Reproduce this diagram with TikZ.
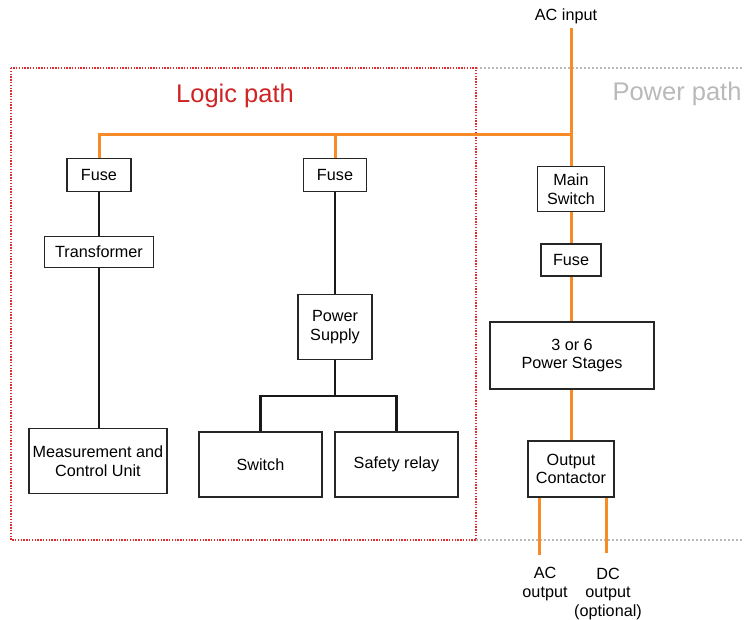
\documentclass[tikz,border=0pt]{standalone}
\usepackage{fontspec}
\setmainfont{Liberation Sans}
\begin{document}
\begin{tikzpicture}[x=1pt,y=-1pt,
  box/.style={draw=black!85,line width=1.5pt,fill=white,inner sep=0pt,align=center,font=\fontsize{16.2}{18.5}\selectfont},
  lbl/.style={align=center,font=\fontsize{16.2}{18.5}\selectfont,inner sep=0pt},
  pw/.style={draw=orgC,line width=3pt},
  lg/.style={draw=black!90,line width=2.4pt}]
\definecolor{orgC}{RGB}{248,138,40}
\definecolor{redC}{RGB}{225,45,45}
\definecolor{redT}{RGB}{206,36,36}
\definecolor{grayC}{RGB}{185,185,185}
\useasboundingbox (0,0) rectangle (744,620);
% regions
\draw[grayC,line width=1.3pt,dash pattern=on 2pt off 2pt] (476,68) -- (744,68);
\draw[grayC,line width=1.3pt,dash pattern=on 2pt off 2pt] (476,540) -- (744,540);
\draw[redC,line width=1.4pt,dash pattern=on 1.4pt off 1.4pt] (11,68) rectangle (476,540);
\node[font=\fontsize{25.5}{30}\selectfont,text=redT] (lp) at (235,96) {Logic path};
\node[font=\fontsize{25.5}{30}\selectfont,text=grayC] (pp) at (677,94) {Power path};
% nodes
\node[lbl] (acin) at (566,16) {AC input};
\coordinate (acs) at (571,28);
\coordinate (j0) at (571,135);
\coordinate (j1) at (99,135);
\coordinate (j2) at (335,135);
\node[box,minimum width=64pt,minimum height=33pt] (f1) at (99,175) {Fuse};
\node[box,minimum width=63pt,minimum height=33pt] (f2) at (335,175) {Fuse};
\node[box,minimum width=109pt,minimum height=31pt] (tr) at (99,252) {Transformer};
\node[box,minimum width=138pt,minimum height=65pt] (mcu) at (98,461) {Measurement and\\Control Unit};
\node[box,minimum width=74pt,minimum height=65pt] (ps) at (335,327) {Power\\Supply};
\node[box,minimum width=123pt,minimum height=65pt] (sw) at (260.5,464.5) {Switch};
\node[box,minimum width=123pt,minimum height=65pt] (sr) at (396.5,464.5) {Safety relay};
\node[box,minimum width=67pt,minimum height=45pt] (ms) at (571,189) {Main\\Switch};
\node[box,minimum width=60pt,minimum height=32pt] (f3) at (571,260) {Fuse};
\node[box,minimum width=164pt,minimum height=67pt] (pst) at (572,355.5) {3 or 6\\Power Stages};
\node[box,minimum width=86pt,minimum height=56pt] (oc) at (571,469) {Output\\Contactor};
\coordinate (aco) at (539,555);
\coordinate (dco) at (606,553);
\node[lbl] (acl) at (545,584) {AC\\output};
\node[lbl] (dcl) at (608,594) {DC\\output\\(optional)};
\coordinate (br) at (335,396);
% connectors
\draw[pw] (acs) -- (ms.north);
\draw[pw] (j0) -- (j1) -- (f1.north);
\draw[pw] (j2) -- (f2.north);
\draw[pw] (ms.south) -- (f3.north);
\draw[pw] (f3.south) -- (f3.south |- pst.north);
\draw[pw] (pst.south -| oc.north) -- (oc.north);
\draw[pw] (oc.south -| aco) -- (aco);
\draw[pw] (oc.south -| dco) -- (dco);
\draw[lg] (f1.south) -- (tr.north);
\draw[lg] (tr.south) -- (tr.south |- mcu.north);
\draw[lg] (f2.south) -- (ps.north);
\draw[lg] (ps.south) -- (br);
\draw[lg] (sw.north) |- (br) -| (sr.north);
\end{tikzpicture}
\end{document}
